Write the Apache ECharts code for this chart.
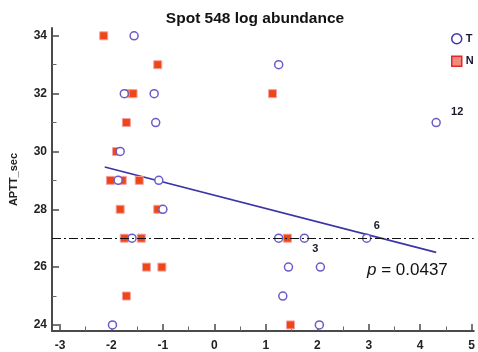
<!DOCTYPE html>
<html>
<head>
<meta charset="utf-8">
<script src="https://cdn.jsdelivr.net/npm/echarts@6/dist/echarts.min.js"></script>
<style>html,body{margin:0;padding:0;background:#fff}#c{width:478px;height:352px}</style>
</head>
<body>
<div id="c"></div>
<script>
// ---- data ----
var tX = [-1.56, 1.25, -1.75, -1.17, -1.14, 4.31, -1.83, -1.87, -1.08, -1.00, -1.60, 1.25, 1.75, 2.96, 1.44, 2.06, 1.33, -1.98, 2.04];
var tY = [34, 33, 32, 32, 31, 31, 30, 29, 29, 28, 27, 27, 27, 27, 26, 26, 25, 24, 24];
var nX = [-2.15, -1.10, -1.65, -1.58, 1.13, -1.71, -1.90, -2.02, -1.79, -1.46, -1.83, -1.10, -1.75, -1.42, 1.42, -1.32, -1.02, -1.71, 1.48];
var nY = [34, 33, 32, 32, 32, 31, 30, 29, 29, 29, 28, 28, 27, 27, 27, 26, 26, 25, 24];
var fitX = [-2.13, 4.31];
var fitY = [29.46, 26.51];
var refLineY = 27;
var pointLabels = {5: '12', 13: '6', 12: '3'};
var xTicks = [-3, -2, -1, 0, 1, 2, 3, 4, 5];
var xMinor = [-2.5, -1.5, -0.5, 0.5, 1.5, 2.5, 3.5, 4.5];
var yTicks = [24, 26, 28, 30, 32, 34];
var yMinor = [25, 27, 29, 31, 33];
var titleText = 'Spot 548 log abundance';
var yName = 'APTT_sec';
var pText = '0.0437';

var labelOffsets = {5: [21, -11], 13: [10, -12], 12: [11, 11]};
var tData = tX.map(function (x, i) {
  var d = {value: [x, tY[i]]};
  if (pointLabels[i]) {
    d.label = {show: true, formatter: pointLabels[i], position: 'inside', offset: labelOffsets[i],
      fontSize: 11, fontWeight: 'bold', color: '#1a1a2a', fontFamily: 'Liberation Sans, Arial'};
  }
  return d;
});
var nData = nX.map(function (x, i) { return [x, nY[i]]; });
var fitData = fitX.map(function (x, i) { return [x, fitY[i]]; });

var axisColor = '#4a4a4a';
var font = 'Liberation Sans, Arial';
var chart = echarts.init(document.getElementById('c'));
chart.setOption({
  animation: false,
  title: {text: titleText, left: 250, top: 6, textAlign: 'center',
    textStyle: {fontSize: 15.5, fontWeight: 'bold', color: '#111', fontFamily: font}},
  grid: {left: 51, right: 0, top: 28, bottom: 19},
  legend: {orient: 'vertical', left: 446, top: 28, itemWidth: 10, itemHeight: 10, itemGap: 11,
    textStyle: {fontSize: 11, fontWeight: 'bold', color: '#15153a', fontFamily: font, padding: [0, 0, 0, -1]},
    data: [
      {name: 'T', icon: 'circle', itemStyle: {color: '#fff', borderColor: '#3f37a6', borderWidth: 1.5}},
      {name: 'N', icon: 'rect', itemStyle: {color: '#f08a7c', borderColor: '#e02a2a', borderWidth: 1.5}}
    ]},
  xAxis: [
    {type: 'value', min: -3.155, max: 5.04, position: 'bottom',
      axisLine: {show: true, onZero: false, lineStyle: {color: axisColor, width: 2}},
      axisTick: {show: true, inside: true, length: 7, customValues: xTicks, lineStyle: {color: axisColor, width: 1.5}},
      axisLabel: {customValues: xTicks, margin: 9, fontSize: 12, fontWeight: 'bold', color: '#222', fontFamily: font},
      splitLine: {show: false}},
    {type: 'value', min: -3.155, max: 5.04, position: 'bottom', offset: 0,
      axisLine: {show: false, onZero: false},
      axisTick: {show: true, inside: true, length: 4.5, customValues: xMinor, lineStyle: {color: '#666', width: 1}},
      axisLabel: {show: false}, splitLine: {show: false}}
  ],
  yAxis: [
    {type: 'value', min: 23.79, max: 34.27, position: 'left', name: yName, nameLocation: 'middle', nameGap: 33,
      nameTextStyle: {fontSize: 11, fontWeight: 'bold', color: '#222', fontFamily: font},
      axisLine: {show: true, onZero: false, lineStyle: {color: axisColor, width: 2}},
      axisTick: {show: true, inside: true, length: 7, customValues: yTicks, lineStyle: {color: axisColor, width: 1.5}},
      axisLabel: {customValues: yTicks, margin: 5, fontSize: 12, fontWeight: 'bold', color: '#222', fontFamily: font},
      splitLine: {show: false}},
    {type: 'value', min: 23.79, max: 34.27, position: 'left', offset: 0,
      axisLine: {show: false, onZero: false},
      axisTick: {show: true, inside: true, length: 4.5, customValues: yMinor, lineStyle: {color: '#666', width: 1}},
      axisLabel: {show: false}, splitLine: {show: false}}
  ],
  series: [
    {type: 'line', name: 'fit', data: fitData, symbol: 'none', silent: true, z: 1,
      lineStyle: {color: '#3a34a6', width: 1.6},
      markLine: {silent: true, symbol: 'none', label: {show: false},
        lineStyle: {color: '#111', width: 1, type: [9, 3, 2, 3]},
        data: [{yAxis: refLineY}]}},
    {type: 'scatter', name: 'N', data: nData, symbol: 'rect', symbolSize: 8, z: 3,
      itemStyle: {color: '#ee4714', borderColor: '#f4a0a8', borderWidth: 1, opacity: 1}},
    {type: 'scatter', name: 'T', data: tData, symbol: 'circle', symbolSize: 8, z: 4,
      itemStyle: {color: '#ffffff', borderColor: '#6a5cc8', borderWidth: 1.5, opacity: 1}}
  ],
  graphic: [
    {type: 'text', left: 367, top: 262, style: {
      text: '{i|p} = ' + pText,
      rich: {i: {fontStyle: 'italic', fontSize: 17, fontFamily: font, fill: '#111'}},
      fontSize: 17, fontFamily: font, fill: '#111'}}
  ]
});
</script>
</body>
</html>
